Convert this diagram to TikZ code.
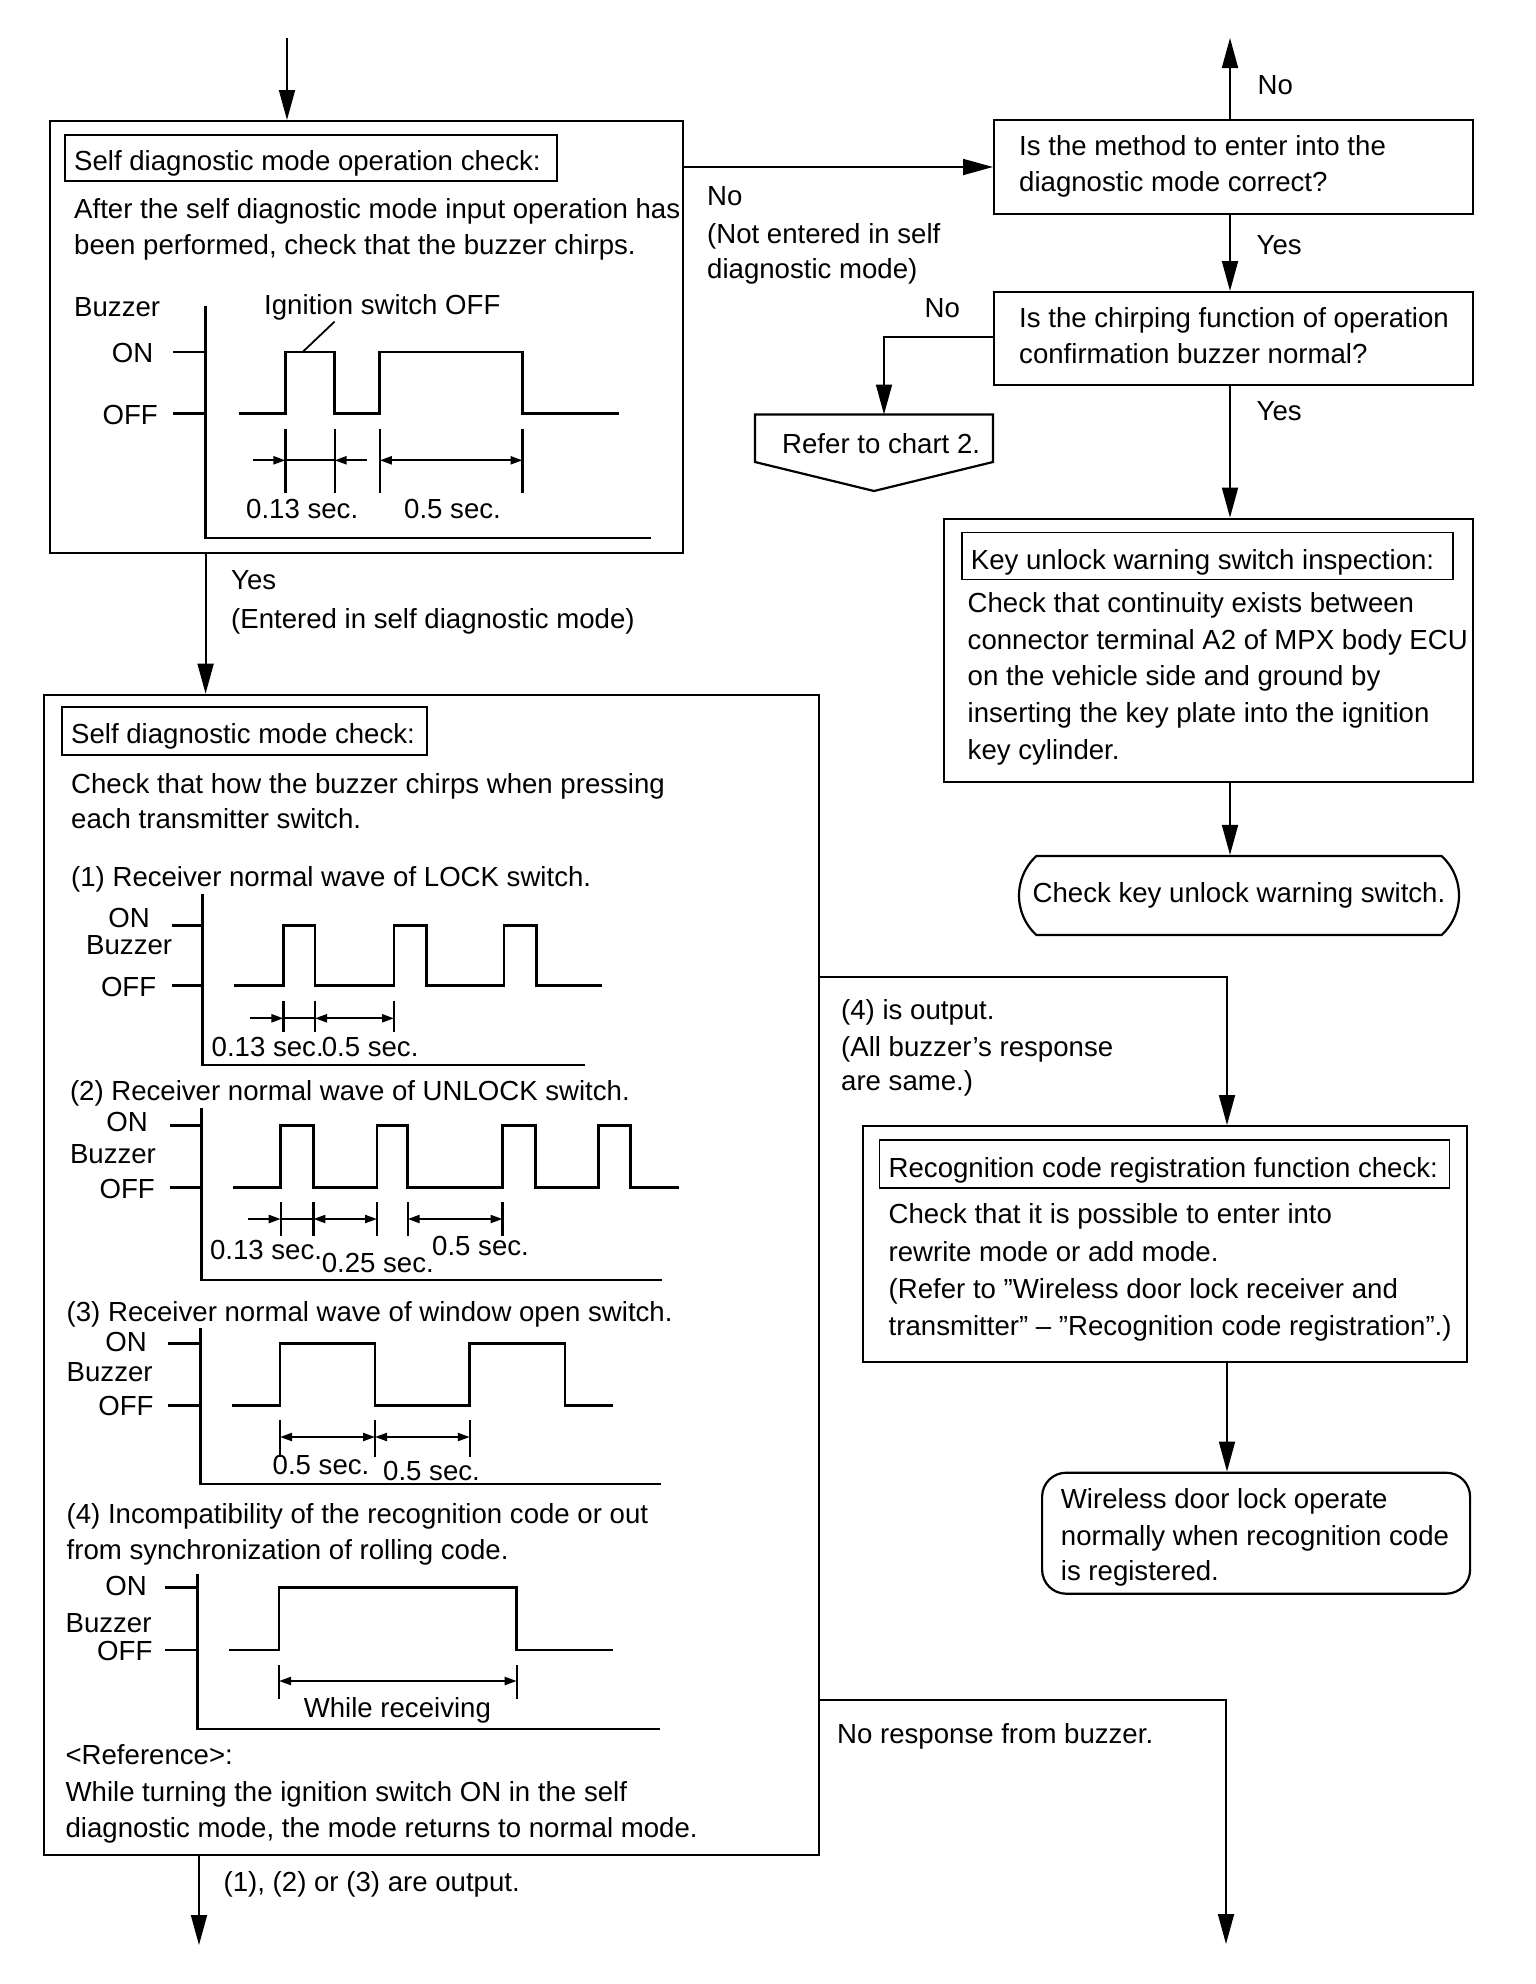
\documentclass[tikz,border=0pt]{standalone}
\usepackage{fontspec}
\setmainfont{Liberation Sans}
\usetikzlibrary{arrows.meta,shapes.misc}
\newcommand\tline[4]{\node[txt] (#1) at (#2,#3) {#4};}
\newcommand\rline[4]{\node[txt,anchor=base east] (#1) at (#2,#3) {#4};}
\begin{document}
\begin{tikzpicture}[x=1pt,y=-1pt,
  txt/.style={font=\fontsize{27.6}{36}\selectfont, inner sep=0pt, anchor=base west},
  box/.style={draw, line width=2.2pt, inner sep=0pt, anchor=north west},
  titlebox/.style={draw, line width=1.7pt, inner sep=0pt, anchor=north west},
  conn/.style={line width=1.8pt},
  arr/.style={conn, -{Triangle[length=30pt,width=16pt]}},
  axisline/.style={line width=2.8pt},
  wave/.style={line width=2.8pt, line join=miter},
  dimline/.style={line width=2.2pt},
  dr/.style={dimline, -{Triangle[length=12pt,width=8pt]}},
  dlr/.style={dimline, {Triangle[length=12pt,width=8pt]}-{Triangle[length=12pt,width=8pt]}}]
\useasboundingbox (0,0) rectangle (1536,1984);

% ---------- boxes ----------
\node[box, minimum width=633pt, minimum height=432pt] (boxA) at (49,120) {};
\node[titlebox, minimum width=492pt, minimum height=46pt] (titleA) at (64,134) {};
\node[box, minimum width=479pt, minimum height=94pt] (Q1) at (993,119) {};
\node[box, minimum width=479pt, minimum height=93pt] (Q2) at (993,291) {};
\node[box, minimum width=529pt, minimum height=263pt] (key) at (943,517.6) {};
\node[titlebox, minimum width=491pt, minimum height=47pt] (keyT) at (961,531.7) {};
\node[draw, line width=2.2pt, rounded rectangle, rounded rectangle arc length=95,
      minimum width=440pt, minimum height=79pt, inner sep=0pt,
      font=\fontsize{27.6}{36}\selectfont] (chk) at (1239,895.5) {Check key unlock warning switch.};
\node[box, minimum width=775pt, minimum height=1160pt] (boxB) at (43,693.7) {};
\node[titlebox, minimum width=365pt, minimum height=48pt] (titleB) at (61,706) {};
\node[box, minimum width=604.5pt, minimum height=235.6pt] (recog) at (861.5,1125) {};
\node[titlebox, minimum width=570pt, minimum height=48pt] (recogT) at (878.7,1139) {};
\node[box, rounded corners=24pt, minimum width=428pt, minimum height=121pt] (final) at (1041,1471.6) {};
\draw[line width=2.2pt] (755,414.5) -- (993,414.5) -- (993,462) -- (874,491) -- (755,462) -- cycle;
\coordinate (refer) at (884,414.5);

% ---------- lanes ----------
\coordinate (start) at (287,38);
\coordinate (yNoA) at (0,167);
\coordinate (laneR) at (1230,0);
\coordinate (upEnd) at (1230,38);
\coordinate (yNoQ) at (0,337);
\coordinate (laneL) at (205.6,0);
\coordinate (y4) at (0,977);
\coordinate (laneR2) at (1227,0);
\coordinate (yNR) at (0,1700);
\coordinate (endR) at (1226,1944);
\coordinate (endL) at (199,1945);

% ---------- connectors ----------
\draw[arr] (start) -- (start |- boxA.north);
\draw[arr] (boxA.east |- yNoA) -- (Q1.west |- yNoA);
\draw[arr] (Q1.north -| laneR) -- (upEnd);
\draw[arr] (Q1.south -| laneR) -- (Q2.north -| laneR);
\draw[arr] (Q2.west |- yNoQ) -| (refer);
\draw[arr] (Q2.south -| laneR) -- (key.north -| laneR);
\draw[arr] (key.south -| laneR) -- (chk.north -| laneR);
\draw[arr] (boxA.south -| laneL) -- (boxB.north -| laneL);
\draw[arr] (boxB.east |- y4) -| (recog.north -| laneR2);
\draw[arr] (recog.south -| laneR2) -- (final.north -| laneR2);
\draw[arr] (boxB.east |- yNR) -| (endR);
\draw[arr] (boxB.south -| endL) -- (endL);

% ---------- texts top ----------
\tline{tA0}{74}{170}{Self diagnostic mode operation check:}
\tline{tA1}{74}{218}{After the self diagnostic mode input operation has}
\tline{tA2}{74}{254.5}{been performed, check that the buzzer chirps.}
\tline{yesA}{231}{589}{Yes}
\tline{yesA2}{231}{628}{(Entered in self diagnostic mode)}
\tline{noA}{707}{205}{No}
\tline{noA2}{707}{243}{(Not entered in self}
\tline{noA3}{707}{278}{diagnostic mode)}
\tline{q1a}{1019}{155}{Is the method to enter into the}
\tline{q1b}{1019}{191.5}{diagnostic mode correct?}
\tline{noQ1}{1257.5}{94}{No}
\tline{yesQ1}{1256.5}{254.5}{Yes}
\tline{q2a}{1019}{327}{Is the chirping function of operation}
\tline{q2b}{1019}{363}{confirmation buzzer normal?}
\tline{noQ2}{924.5}{317.5}{No}
\tline{yesQ2}{1256.5}{420.6}{Yes}
\tline{refT}{782}{453}{Refer to chart 2.}
\tline{k0}{970.7}{569.6}{Key unlock warning switch inspection:}
\tline{k1}{967.5}{612.5}{Check that continuity exists between}
\tline{k2}{967.5}{649}{connector terminal A2 of MPX body ECU}
\tline{k3}{967.5}{685.7}{on the vehicle side and ground by}
\tline{k4}{967.5}{722}{inserting the key plate into the ignition}
\tline{k5}{967.5}{759}{key cylinder.}
\tline{o1}{841}{1019}{(4) is output.}
\tline{o2}{841}{1056}{(All buzzer’s response}
\tline{o3}{841}{1090}{are same.)}
\tline{r0}{888.5}{1177}{Recognition code registration function check:}
\tline{r1}{888.5}{1223.8}{Check that it is possible to enter into}
\tline{r2}{888.5}{1261}{rewrite mode or add mode.}
\tline{r3}{888.5}{1298}{(Refer to "Wireless door lock receiver and}
\tline{r4}{888.5}{1335}{transmitter” – ”Recognition code registration”.)}
\tline{f1}{1060.7}{1508}{Wireless door lock operate}
\tline{f2}{1060.7}{1545}{normally when recognition code}
\tline{f3}{1060.7}{1580.5}{is registered.}
\tline{nr}{837}{1743}{No response from buzzer.}

% ---------- chart A ----------
\tline{bzA}{74}{316}{Buzzer}
\rline{onA}{153.5}{362}{ON}
\rline{offA}{158}{424}{OFF}
\draw[axisline] (205.6,305.6) -- (205.6,538) -- (651,538);
\draw[axisline] (173,352) -- (205.6,352);
\draw[axisline] (173,413.7) -- (205.6,413.7);
\draw[wave] (238.6,413.7) -- (285.4,413.7) -- (285.4,352) -- (334.6,352) -- (334.6,413.7)
  -- (379.8,413.7) -- (379.8,352) -- (522.5,352) -- (522.5,413.7) -- (619,413.7);
\draw[conn] (302.6,352) -- (334.6,321.6);
\tline{ign}{264}{314}{Ignition switch OFF}
\foreach \x in {285.4,334.6,379.8,522.5} \draw[dimline] (\x,428.6) -- (\x,492.8);
\draw[dr] (253.4,460.3) -- (285.4,460.3);
\draw[dimline] (285.4,460.3) -- (334.6,460.3);
\draw[dr] (366.5,460.3) -- (334.6,460.3);
\draw[dlr] (379.8,460.3) -- (522.5,460.3);
\tline{sA1}{246}{518}{0.13 sec.}
\tline{sA2}{404}{518}{0.5 sec.}

% ---------- box B texts ----------
\tline{tB0}{71}{743}{Self diagnostic mode check:}
\tline{tB1}{71}{793}{Check that how the buzzer chirps when pressing}
\tline{tB2}{71}{828.5}{each transmitter switch.}
\tline{c1}{71}{886.5}{(1) Receiver normal wave of LOCK switch.}
\tline{c2}{69.8}{1100.6}{(2) Receiver normal wave of UNLOCK switch.}
\tline{c3}{66.5}{1321}{(3) Receiver normal wave of window open switch.}
\tline{c4a}{66.5}{1523.5}{(4) Incompatibility of the recognition code or out}
\tline{c4b}{66.5}{1559.7}{from synchronization of rolling code.}
\tline{ref0}{65.4}{1764.4}{<Reference>:}
\tline{ref1}{65.4}{1801.5}{While turning the ignition switch ON in the self}
\tline{ref2}{65.4}{1837}{diagnostic mode, the mode returns to normal mode.}
\tline{outB}{223.5}{1891.6}{(1), (2) or (3) are output.}

% ---------- chart 1 ----------
\rline{on1}{150}{927}{ON}
\tline{bz1}{86}{954.5}{Buzzer}
\rline{off1}{156.4}{996}{OFF}
\draw[axisline] (202.7,894.4) -- (202.7,1065) -- (584.8,1065);
\draw[axisline] (171.7,925.6) -- (202.7,925.6);
\draw[axisline] (171.7,985.8) -- (202.7,985.8);
\draw[wave] (234.4,985.8) -- (283.4,985.8) -- (283.4,925.6) -- (315,925.6) -- (315,985.8)
  -- (394,985.8) -- (394,925.6) -- (426.7,925.6) -- (426.7,985.8)
  -- (504,985.8) -- (504,925.6) -- (536.8,925.6) -- (536.8,985.8) -- (602,985.8);
\foreach \x in {283.4,315,394} \draw[dimline] (\x,1000.5) -- (\x,1031.7);
\draw[dr] (249.6,1018.3) -- (283.4,1018.3);
\draw[dimline] (283.4,1018.3) -- (315,1018.3);
\draw[dlr] (315,1018.3) -- (394,1018.3);
\tline{s11}{211.5}{1056}{0.13 sec.}
\tline{s12}{321.6}{1056}{0.5 sec.}

% ---------- chart 2 ----------
\rline{on2}{148}{1131}{ON}
\tline{bz2}{69.8}{1163}{Buzzer}
\rline{off2}{155}{1198}{OFF}
\draw[axisline] (201.7,1108.4) -- (201.7,1280) -- (662,1280);
\draw[axisline] (170,1125.4) -- (201.7,1125.4);
\draw[axisline] (170,1187.8) -- (201.7,1187.8);
\draw[wave] (233,1187.8) -- (280.7,1187.8) -- (280.7,1125.4) -- (313.4,1125.4) -- (313.4,1187.8)
  -- (377,1187.8) -- (377,1125.4) -- (407.7,1125.4) -- (407.7,1187.8)
  -- (502.5,1187.8) -- (502.5,1125.4) -- (535.2,1125.4) -- (535.2,1187.8)
  -- (598.4,1187.8) -- (598.4,1125.4) -- (630.6,1125.4) -- (630.6,1187.8) -- (678.5,1187.8);
\foreach \x in {280.7,313.4,377,407.7,502.5} \draw[dimline] (\x,1202) -- (\x,1235.5);
\draw[dr] (248,1219) -- (280.7,1219);
\draw[dimline] (280.7,1219) -- (313.4,1219);
\draw[dlr] (313.4,1219) -- (377,1219);
\draw[dlr] (407.7,1219) -- (502.5,1219);
\tline{s21}{209.8}{1259}{0.13 sec.}
\tline{s22}{321.6}{1272}{0.25 sec.}
\tline{s23}{432}{1255.6}{0.5 sec.}

% ---------- chart 3 ----------
\rline{on3}{147}{1351}{ON}
\tline{bz3}{66.5}{1381}{Buzzer}
\rline{off3}{153.7}{1415}{OFF}
\draw[axisline] (200.6,1328) -- (200.6,1484) -- (661,1484);
\draw[axisline] (168,1343.6) -- (200.6,1343.6);
\draw[axisline] (168,1405.4) -- (200.6,1405.4);
\draw[wave] (231.6,1405.4) -- (280,1405.4) -- (280,1343.6) -- (375,1343.6) -- (375,1405.4)
  -- (469.8,1405.4) -- (469.8,1343.6) -- (565,1343.6) -- (565,1405.4) -- (613,1405.4);
\foreach \x in {280,375,469.8} \draw[dimline] (\x,1419.8) -- (\x,1456.8);
\draw[dlr] (280,1437) -- (375,1437);
\draw[dlr] (375,1437) -- (469.8,1437);
\tline{s31}{272.5}{1474.7}{0.5 sec.}
\tline{s32}{383}{1480}{0.5 sec.}

% ---------- chart 4 ----------
\rline{on4}{147}{1595}{ON}
\tline{bz4}{65.4}{1632}{Buzzer}
\rline{off4}{152.6}{1660}{OFF}
\draw[axisline] (197.3,1573.6) -- (197.3,1729) -- (659.5,1729);
\draw[axisline] (165,1587.6) -- (197.3,1587.6);
\draw[axisline] (165,1649.9) -- (197.3,1649.9);
\draw[wave] (229,1649.9) -- (279,1649.9) -- (279,1587.6) -- (516.7,1587.6) -- (516.7,1649.9) -- (613,1649.9);
\foreach \x in {279,516.7} \draw[dimline] (\x,1665) -- (\x,1698.7);
\draw[dlr] (279,1681) -- (516.7,1681);
\tline{s41}{303.6}{1717.4}{While receiving}
\end{tikzpicture}
\end{document}
